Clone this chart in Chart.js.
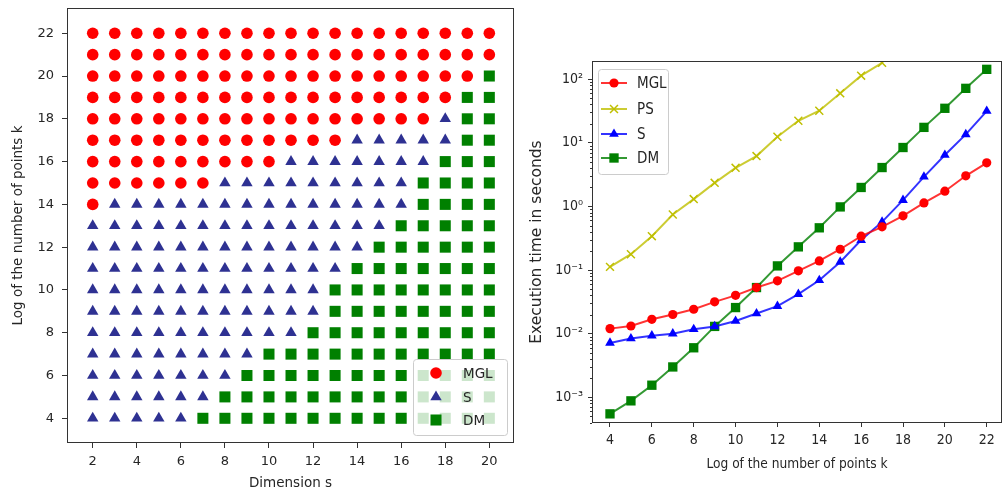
<!DOCTYPE html>
<html>
<head>
<meta charset="utf-8">
<script src="https://cdn.jsdelivr.net/npm/chart.js@4.4.0/dist/chart.umd.min.js"></script>
<style>
body { margin: 0; background: #fff; }
#left { position: absolute; left: 0; top: 0; width: 520px; height: 492px; }
#right { position: absolute; left: 520px; top: 0; width: 482px; height: 492px; }
</style>
</head>
<body>
<div id="left"><canvas id="grid"></canvas></div>
<div id="right"><canvas id="times"></canvas></div>
<script>
// ---- left panel: fastest method for each (s, k) ----
var dims = [2, 3, 4, 5, 6, 7, 8, 9, 10, 11, 12, 13, 14, 15, 16, 17, 18, 19, 20];
var gridK = [4, 5, 6, 7, 8, 9, 10, 11, 12, 13, 14, 15, 16, 17, 18, 19, 20, 21, 22];
// per row k: how many of the smallest s are won by MGL, then how many by S; the rest are DM
var mglCount = [0, 0, 0, 0, 0, 0, 0, 0, 0, 0, 1, 6, 9, 12, 16, 17, 18, 19, 19];
var sCount = [5, 6, 7, 8, 10, 11, 11, 12, 13, 14, 14, 9, 7, 5, 1, 0, 0, 0, 0];
var dimTicks = [2, 4, 6, 8, 10, 12, 14, 16, 18, 20];
var gridKTicks = [4, 6, 8, 10, 12, 14, 16, 18, 20, 22];

// ---- right panel: execution times ----
var points = [4, 5, 6, 7, 8, 9, 10, 11, 12, 13, 14, 15, 16, 17, 18, 19, 20, 21, 22];
var timeMGL = [0.012, 0.0132, 0.0168, 0.020, 0.0242, 0.0316, 0.040, 0.053, 0.0675, 0.097, 0.139, 0.212, 0.34, 0.476, 0.71, 1.13, 1.73, 3.02, 4.83];
var timePS = [0.112, 0.177, 0.34, 0.745, 1.30, 2.34, 4.03, 6.16, 12.4, 22.1, 31.8, 59.6, 113, 180];
var timeS = [0.00715, 0.0084, 0.0093, 0.010, 0.0117, 0.013, 0.0158, 0.0207, 0.027, 0.0417, 0.069, 0.134, 0.295, 0.57, 1.25, 2.91, 6.4, 13.5, 31.4];
var timeDM = [0.00055, 0.00088, 0.00155, 0.0030, 0.0060, 0.013, 0.0257, 0.053, 0.116, 0.231, 0.46, 0.98, 1.98, 4.07, 8.4, 17.4, 34.7, 71.4, 142];
var pointTicks = [4, 6, 8, 10, 12, 14, 16, 18, 20, 22];
var timeDecades = [0.001, 0.01, 0.1, 1, 10, 100];

var TEXT = '#262626';
var FONT_L = 'DejaVu Sans';
var FONT_R = 'DejaVu Sans Condensed, DejaVu Sans';

// split the grid into three scatter series
var mglPts = [], sPts = [], dmPts = [];
gridK.forEach(function (k, r) {
    dims.forEach(function (s, c) {
        if (c < mglCount[r]) mglPts.push({x: s, y: k});
        else if (c < mglCount[r] + sCount[r]) sPts.push({x: s, y: k});
        else dmPts.push({x: s, y: k});
    });
});

function fixedTicks(values) {
    return function (scale) {
        scale.ticks = values.map(function (v) { return {value: v}; });
    };
}

// fix the axis box size and drop the extra room Chart.js keeps for edge labels
function fitX(h) {
    return function (s) { s.height = h; s.paddingLeft = 0; s.paddingRight = 0; };
}
function fitY(w) {
    return function (s) { s.width = w; s.paddingTop = 0; s.paddingBottom = 0; };
}

function isDecade(v) {
    var l = Math.log10(v);
    return Math.abs(l - Math.round(l)) < 1e-9;
}

var SUP = {'-': '\u207b', '0': '\u2070', '1': '\u00b9', '2': '\u00b2', '3': '\u00b3'};
function powerLabel(v) {
    var e = String(Math.round(Math.log10(v)));
    return '10' + e.split('').map(function (ch) { return SUP[ch]; }).join('');
}

function drawFrame(chart) {
    var a = chart.chartArea, ctx = chart.ctx;
    ctx.save();
    ctx.strokeStyle = '#333';
    ctx.lineWidth = 1;
    ctx.strokeRect(Math.round(a.left) + 0.5, Math.round(a.top) + 0.5,
        Math.round(a.right - a.left) - 1, Math.round(a.bottom - a.top) - 1);
    ctx.restore();
}

function roundBox(ctx, x, y, w, h, r) {
    ctx.beginPath();
    ctx.moveTo(x + r, y);
    ctx.lineTo(x + w - r, y);
    ctx.arcTo(x + w, y, x + w, y + r, r);
    ctx.lineTo(x + w, y + h - r);
    ctx.arcTo(x + w, y + h, x + w - r, y + h, r);
    ctx.lineTo(x + r, y + h);
    ctx.arcTo(x, y + h, x, y + h - r, r);
    ctx.lineTo(x, y + r);
    ctx.arcTo(x, y, x + r, y, r);
    ctx.closePath();
    ctx.fillStyle = 'rgba(255,255,255,0.8)';
    ctx.fill();
    ctx.strokeStyle = '#cccccc';
    ctx.lineWidth = 1;
    ctx.stroke();
}

// legend drawn inside the plot, matplotlib style
function drawLegend(chart, box, rows, markX, textX, font, withLine) {
    var ctx = chart.ctx;
    ctx.save();
    roundBox(ctx, box.x + 0.5, box.y + 0.5, box.w, box.h, 3);
    chart.data.datasets.forEach(function (ds, i) {
        var y = rows[i];
        if (withLine) {
            ctx.strokeStyle = ds.borderColor;
            ctx.lineWidth = ds.borderWidth;
            ctx.beginPath();
            ctx.moveTo(markX - 13, y);
            ctx.lineTo(markX + 13, y);
            ctx.stroke();
        }
        ctx.fillStyle = ds.pointBackgroundColor;
        ctx.strokeStyle = ds.pointBorderColor;
        ctx.lineWidth = ds.pointBorderWidth;
        Chart.helpers.drawPoint(ctx, {
            pointStyle: ds.pointStyle, radius: ds.pointRadius,
            rotation: 0, borderWidth: ds.pointBorderWidth
        }, markX, y);
        ctx.fillStyle = TEXT;
        ctx.font = font;
        ctx.textAlign = 'left';
        ctx.textBaseline = 'middle';
        ctx.fillText(ds.label, textX, y + 1);
    });
    ctx.restore();
}

new Chart(document.getElementById('grid'), {
    type: 'scatter',
    data: {
        datasets: [
            {label: 'MGL', data: mglPts, pointStyle: 'circle', pointRadius: 5.8,
             pointBackgroundColor: '#ff0000', pointBorderColor: '#ff0000', pointBorderWidth: 0},
            {label: 'S', data: sPts, pointStyle: 'triangle', pointRadius: 6.6,
             pointBackgroundColor: '#2e3192', pointBorderColor: '#2e3192', pointBorderWidth: 0},
            {label: 'DM', data: dmPts, pointStyle: 'rect', pointRadius: 7.8,
             pointBackgroundColor: '#008000', pointBorderColor: '#008000', pointBorderWidth: 0}
        ]
    },
    options: {
        responsive: true,
        maintainAspectRatio: false,
        animation: false,
        events: [],
        layout: {autoPadding: false, padding: {left: 0, top: 8, right: 6, bottom: 0}},
        plugins: {legend: {display: false}, tooltip: {enabled: false}},
        scales: {
            x: {
                type: 'linear', min: 0.833, max: 21.12,
                afterBuildTicks: fixedTicks(dimTicks),
                afterFit: fitX(49),
                grid: {drawOnChartArea: false, tickLength: 5, tickColor: '#333'},
                border: {display: false},
                ticks: {autoSkip: false, maxRotation: 0, padding: 6, color: TEXT, font: {family: FONT_L, size: 13}},
                title: {display: true, text: 'Dimension s', color: TEXT, padding: {top: 0, bottom: 0}, font: {family: FONT_L, size: 13.5}}
            },
            y: {
                type: 'linear', min: 2.845, max: 23.18,
                afterBuildTicks: fixedTicks(gridKTicks),
                afterFit: fitY(67),
                grid: {drawOnChartArea: false, tickLength: 5, tickColor: '#333'},
                border: {display: false},
                ticks: {autoSkip: false, padding: 8, color: TEXT, font: {family: FONT_L, size: 13}},
                title: {display: true, text: 'Log of the number of points k', color: TEXT, padding: {top: 10, bottom: 0}, font: {family: FONT_L, size: 13.5}}
            }
        }
    },
    plugins: [{
        id: 'gridDecor',
        afterDraw: function (chart) {
            drawFrame(chart);
            drawLegend(chart, {x: 413, y: 359, w: 94, h: 76}, [373, 397, 420], 436, 463,
                '13.5px ' + FONT_L, false);
        }
    }]
});

// log-axis tick positions: decades plus 2..9 minors
var timeTickValues = [0.0004, 0.0005, 0.0006, 0.0007, 0.0008, 0.0009];
timeDecades.forEach(function (d) {
    for (var m = 1; m <= 9; m++) timeTickValues.push(d * m);
});

new Chart(document.getElementById('times'), {
    type: 'line',
    data: {
        datasets: [
            {label: 'MGL', data: points.map(function (k, i) { return {x: k, y: timeMGL[i]}; }),
             borderColor: 'rgba(255,0,0,0.8)', borderWidth: 2, pointStyle: 'circle', pointRadius: 4.6,
             pointBackgroundColor: '#ff0000', pointBorderColor: '#ff0000', pointBorderWidth: 0},
            {label: 'PS', data: timePS.map(function (v, i) { return {x: points[i], y: v}; }),
             borderColor: 'rgba(191,191,0,0.8)', borderWidth: 2, pointStyle: 'crossRot', pointRadius: 5.6,
             pointBackgroundColor: '#bfbf00', pointBorderColor: '#bfbf00', pointBorderWidth: 1.5},
            {label: 'S', data: points.map(function (k, i) { return {x: k, y: timeS[i]}; }),
             borderColor: 'rgba(0,0,255,0.8)', borderWidth: 2, pointStyle: 'triangle', pointRadius: 5.6,
             pointBackgroundColor: '#0000ff', pointBorderColor: '#0000ff', pointBorderWidth: 0},
            {label: 'DM', data: points.map(function (k, i) { return {x: k, y: timeDM[i]}; }),
             borderColor: 'rgba(0,128,0,0.8)', borderWidth: 2, pointStyle: 'rect', pointRadius: 6.6,
             pointBackgroundColor: '#008000', pointBorderColor: '#008000', pointBorderWidth: 0}
        ]
    },
    options: {
        responsive: true,
        maintainAspectRatio: false,
        animation: false,
        events: [],
        layout: {autoPadding: false, padding: {left: 0, top: 61, right: 0, bottom: 0}},
        plugins: {legend: {display: false}, tooltip: {enabled: false}},
        scales: {
            x: {
                type: 'linear', min: 3.14, max: 22.73,
                afterBuildTicks: fixedTicks(pointTicks),
                afterFit: fitX(69),
                grid: {drawOnChartArea: false, tickLength: 4, tickColor: '#333'},
                border: {display: false},
                ticks: {autoSkip: false, maxRotation: 0, padding: 5, color: TEXT, font: {family: FONT_R, size: 14}},
                title: {display: true, text: 'Log of the number of points k', color: TEXT, padding: {top: 0, bottom: 19}, font: {family: FONT_R, size: 13.6}}
            },
            y: {
                type: 'logarithmic', min: 0.000395, max: 192,
                afterBuildTicks: fixedTicks(timeTickValues),
                afterFit: fitY(72),
                grid: {
                    drawOnChartArea: false, tickLength: 4,
                    tickColor: function (c) { return c.tick && isDecade(c.tick.value) ? '#333' : 'rgba(0,0,0,0)'; }
                },
                border: {display: false},
                ticks: {
                    autoSkip: false, padding: 5, color: TEXT, font: {family: FONT_R, size: 14},
                    callback: function (v) { return isDecade(v) ? powerLabel(v) : ''; }
                },
                title: {display: true, text: 'Execution time in seconds', color: TEXT, padding: {top: 8, bottom: 0}, font: {family: FONT_L, size: 15.5}}
            }
        }
    },
    plugins: [{
        id: 'timeDecor',
        afterDraw: function (chart) {
            var ctx = chart.ctx, y = chart.scales.y, left = Math.round(chart.chartArea.left);
            ctx.save();
            ctx.strokeStyle = '#333';
            ctx.lineWidth = 1;
            y.ticks.forEach(function (t) {
                if (isDecade(t.value) || t.value < y.min || t.value > y.max) return;
                var py = Math.round(y.getPixelForValue(t.value)) + 0.5;
                ctx.beginPath();
                ctx.moveTo(left - 2, py);
                ctx.lineTo(left, py);
                ctx.stroke();
            });
            ctx.restore();
            drawFrame(chart);
            drawLegend(chart, {x: 78, y: 69, w: 70, h: 105}, [83, 109, 134, 158], 94, 117,
                '15px ' + FONT_R, true);
        }
    }]
});
</script>
</body>
</html>
